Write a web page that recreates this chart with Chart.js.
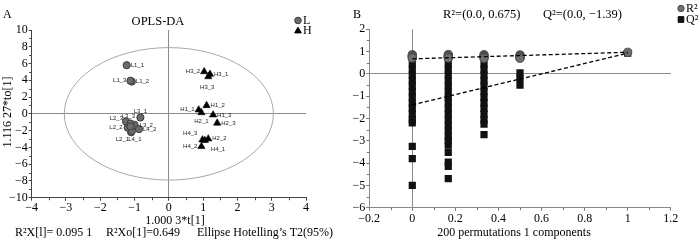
<!DOCTYPE html>
<html><head><meta charset="utf-8">
<script src="https://cdn.jsdelivr.net/npm/chart.js@4"></script>
<style>
html,body{margin:0;padding:0;background:#fff;}
#wrap{position:relative;width:700px;height:242px;overflow:hidden;background:#fff;}
canvas{position:absolute;top:0;}
#cA{left:0;} #cB{left:350px;}
</style></head><body>
<div id="wrap"><canvas id="cA" width="350" height="242"></canvas><canvas id="cB" width="350" height="242"></canvas></div>
<script>
// ---------- Panel A: OPLS-DA score plot ----------
const namesL = ['L1_1','L1_2','L1_3','L2_1','L2_2','L2_3','L3_1','L3_2','L3_3','L4_1','L4_2','L4_3'];
const tL     = [-1.23,-1.08,-1.12,-1.10,-1.20,-1.25,-0.83,-1.00,-1.12,-1.08,-0.87,-1.12];
const toL    = [ 5.80, 3.85, 3.95,-2.20,-1.65,-0.92,-0.44,-1.30,-1.15,-2.05,-1.82,-1.50];
const namesH = ['H1_1','H1_2','H1_3','H2_1','H2_2','H2_3','H3_1','H3_2','H3_3','H4_1','H4_2','H4_3'];
const tH     = [ 0.87, 1.10, 1.29, 0.95, 1.15, 1.41, 1.20, 1.03, 1.15, 1.05, 0.95, 0.98];
const toH    = [ 0.48, 0.99,-0.12, 0.15,-2.98,-1.10, 4.72, 5.04, 4.44,-3.17,-3.89,-3.10];
const ellipseT = 3.05, ellipseTo = 7.9;       // Hotelling's T2 (95%) semi-axes
const xTicksA = [-4,-3,-2,-1,0,1,2,3,4];
const yTicksA = [-10,-8,-6,-4,-2,0,2,4,6,8,10];

// ---------- Panel B: permutation test ----------
const corrLevels = [0, 0.167, 0.333, 0.5];
const r2Perm = [
  [0.86,0.82,0.78,0.74,0.71],
  [0.87,0.83,0.79,0.75,0.71],
  [0.86,0.82,0.78,0.74,0.70],
  [0.85,0.81,0.77,0.73,0.70]
];
const q2Perm = [
  [0.45,0.20,-0.05,-0.30,-0.55,-0.80,-1.05,-1.30,-1.55,-1.80,-2.05,-2.20,-3.25,-3.80,-5.00],
  [0.45,0.20,-0.05,-0.30,-0.55,-0.80,-1.05,-1.30,-1.55,-1.80,-2.05,-2.30,-2.55,-2.80,-3.00,-3.20,-3.52,-3.95,-4.15,-4.70],
  [0.45,0.20,-0.05,-0.30,-0.55,-0.80,-1.05,-1.30,-1.55,-1.80,-2.05,-2.25,-2.72],
  [0.05,-0.20,-0.50]
];
const corrOriginal = 1.0, r2Original = 0.97, q2Original = 0.93;
const r2Intercept = 0.675, q2Intercept = -1.39;
const xTicksB = [-0.2,0,0.2,0.4,0.6,0.8,1,1.2];
const yTicksB = [-6,-5,-4,-3,-2,-1,0,1,2];

const SERIF = "'Liberation Serif','Times New Roman',serif";
const SANS = "'Liberation Sans',Arial,sans-serif";
const fmt = v => { const n = Number(Number(v).toFixed(2)); return n < 0 ? '\u2212' + Math.abs(n) : String(n); };

function drawMarker(ctx, style, x, y, r, fill, stroke) {
  ctx.save(); ctx.fillStyle = fill; ctx.strokeStyle = stroke; ctx.lineWidth = 1;
  ctx.beginPath();
  if (style === 'circle') ctx.arc(x, y, r, 0, Math.PI*2);
  else if (style === 'triangle') { ctx.moveTo(x, y - r); ctx.lineTo(x + r*0.866, y + r*0.5); ctx.lineTo(x - r*0.866, y + r*0.5); ctx.closePath(); }
  else { ctx.rect(x - r, y - r, 2*r, 2*r); }
  ctx.fill(); ctx.stroke(); ctx.restore();
}

const minorTicks = { id:'minorTicks', afterDraw(chart, args, opts) {
  const ctx = chart.ctx; ctx.save(); ctx.strokeStyle = opts.color || '#444'; ctx.lineWidth = 1;
  ['x','y'].forEach(id => {
    const s = chart.scales[id]; const t = s.ticks;
    for (let i = 0; i < t.length - 1; i++) {
      const p = Math.round(s.getPixelForValue((t[i].value + t[i+1].value) / 2)) + 0.5;
      ctx.beginPath();
      if (id === 'x') { ctx.moveTo(p, s.top); ctx.lineTo(p, s.top + 2.5); }
      else { ctx.moveTo(s.right, p); ctx.lineTo(s.right - 2.5, p); }
      ctx.stroke();
    }
  });
  ctx.restore();
}};

const zeroGrid = c => (c.tick && Math.abs(c.tick.value) < 1e-9) ? '#8a8a8a' : 'rgba(0,0,0,0)';

// label anchor offsets for point names (dx, dy, align)
const labelAnchors = {
  L1_1:[4,0,'left'], L1_2:[4,0,'left'], L1_3:[-4,0,'right'], L2_1:[-2,7,'right'], L2_2:[-5,0,'right'],
  L2_3:[-3,-3,'right'], L3_1:[0,-6,'center'], L3_2:[5,1,'left'], L3_3:[-2,-7,'center'], L4_1:[3,8,'center'],
  L4_2:[4,0,'left'], L4_3:[0,0,'none'],
  H1_1:[-4,0,'right'], H1_2:[4,0,'left'], H1_3:[4,0,'left'], H2_1:[0,9,'center'], H2_2:[4,0,'left'],
  H2_3:[4,0,'left'], H3_1:[4,0,'left'], H3_2:[-4,0,'right'], H3_3:[-1,11,'center'], H4_1:[6,9,'left'],
  H4_2:[-4,0,'right'], H4_3:[-5,-6,'right']
};

const panelA = { id:'panelA',
  beforeDatasetsDraw(chart) {
    const ctx = chart.ctx, xs = chart.scales.x, ys = chart.scales.y;
    const cx = xs.getPixelForValue(0), cy = ys.getPixelForValue(0);
    const rx = Math.abs(xs.getPixelForValue(ellipseT) - cx), ry = Math.abs(ys.getPixelForValue(ellipseTo) - cy);
    ctx.save(); ctx.strokeStyle = '#a8a8a8'; ctx.lineWidth = 1;
    ctx.beginPath(); ctx.ellipse(cx, cy, rx, ry, 0, 0, Math.PI*2); ctx.stroke(); ctx.restore();
  },
  afterDraw(chart) {
    const ctx = chart.ctx; ctx.save();
    ctx.font = '6px ' + SANS; ctx.fillStyle = '#222'; ctx.textBaseline = 'middle';
    chart.data.datasets.forEach((ds, di) => {
      const meta = chart.getDatasetMeta(di);
      ds.data.forEach((d, i) => {
        const a = labelAnchors[d.n]; if (!a || a[2] === 'none') return;
        const el = meta.data[i];
        ctx.textAlign = a[2]; ctx.fillText(d.n, el.x + a[0], el.y + a[1]);
      });
    });
    ctx.fillStyle = '#000'; ctx.textBaseline = 'middle';
    ctx.font = '12px ' + SERIF; ctx.textAlign = 'left'; ctx.fillText('A', 3, 15);
    ctx.font = '12.5px ' + SERIF; ctx.textAlign = 'center'; ctx.fillText('OPLS-DA', 158, 22);
    ctx.font = '12px ' + SERIF; ctx.fillText('1.000 3*t[1]', 175, 221);
    ctx.textAlign = 'left';
    ctx.fillText('R\u00B2X[l]= 0.095 1', 15, 233);
    ctx.fillText('R\u00B2Xo[1]=0.649', 106, 233);
    ctx.fillText('Ellipse Hotelling\u2019s T2(95%)', 197, 233);
    ctx.save(); ctx.translate(8, 112); ctx.rotate(-Math.PI/2); ctx.textAlign = 'center';
    ctx.fillText('1.116 27*to[1]', 0, 0); ctx.restore();
    drawMarker(ctx, 'circle', 298, 20.5, 3.3, '#6b6b6b', '#3c3c3c');
    drawMarker(ctx, 'triangle', 298, 31, 3.8, '#000', '#000');
    ctx.font = '12px ' + SERIF; ctx.textAlign = 'left';
    ctx.fillText(chart.data.datasets[0].label, 303, 21);
    ctx.fillText(chart.data.datasets[1].label, 303, 31);
    ctx.restore();
  }
};

new Chart(document.getElementById('cA'), {
  type: 'scatter',
  data: { datasets: [
    { label:'L', data: namesL.map((n,i)=>({x:tL[i], y:toL[i], n})), pointStyle:'circle', pointRadius:3.6,
      backgroundColor:'#6b6b6b', borderColor:'#3c3c3c', borderWidth:1 },
    { label:'H', data: namesH.map((n,i)=>({x:tH[i], y:toH[i], n})), pointStyle:'triangle', pointRadius:4.2,
      backgroundColor:'#000', borderColor:'#000', borderWidth:0.6 }
  ]},
  options: {
    responsive:false, animation:false, events:[],
    layout:{ autoPadding:false, padding:{top:30, right:44, left:0, bottom:0} },
    plugins:{ legend:{display:false}, tooltip:{enabled:false}, minorTicks:{color:'#444'} },
    scales: {
      x: { type:'linear', min:-4, max:4,
        afterBuildTicks: s => { s.ticks = xTicksA.map(v=>({value:v})); },
        ticks:{ color:'#000', font:{family:SERIF, size:12}, padding:0, maxRotation:0, autoSkip:false, callback: fmt },
        grid:{ color: zeroGrid, tickColor:'#444', tickLength:3, lineWidth:1 },
        border:{ display:true, color:'#444', width:1 },
        afterFit: s => { s.height = 44.3; } },
      y: { type:'linear', min:-10, max:10,
        afterBuildTicks: s => { s.ticks = yTicksA.map(v=>({value:v})); },
        ticks:{ color:'#000', font:{family:SERIF, size:12}, padding:1, autoSkip:false, callback: fmt },
        grid:{ color: zeroGrid, tickColor:'#444', tickLength:3, lineWidth:1 },
        border:{ display:true, color:'#444', width:1 },
        afterFit: s => { s.width = 31.7; } }
    }
  },
  plugins:[panelA, minorTicks]
});

// ---------- Panel B chart ----------
const r2Points = [], q2Points = [];
corrLevels.forEach((c, i) => {
  r2Perm[i].forEach(v => r2Points.push({x:c, y:v}));
  q2Perm[i].forEach(v => q2Points.push({x:c, y:v}));
});
r2Points.push({x:corrOriginal, y:r2Original});
q2Points.push({x:corrOriginal, y:q2Original});

const panelB = { id:'panelB',
  afterDraw(chart) {
    const ctx = chart.ctx; ctx.save(); ctx.fillStyle = '#000'; ctx.textBaseline = 'middle';
    ctx.font = '12px ' + SERIF; ctx.textAlign = 'left'; ctx.fillText('B', 3, 15);
    ctx.font = '12.5px ' + SERIF;
    ctx.fillText('R\u00B2=(0.0, ' + r2Intercept + ')', 93, 15);
    ctx.fillText('Q\u00B2=(0.0, \u2212' + Math.abs(q2Intercept) + ')', 193, 15);
    ctx.font = '12px ' + SERIF; ctx.textAlign = 'center';
    ctx.fillText('200 permutations 1 components', 164, 233);
    drawMarker(ctx, 'circle', 331, 8.5, 3.2, '#707070', '#4a4a4a');
    drawMarker(ctx, 'rect', 331, 19.5, 2.8, '#111', '#000');
    ctx.textAlign = 'left'; ctx.font = '12px ' + SERIF;
    ctx.fillText('R\u00B2', 336, 9); ctx.fillText('Q\u00B2', 336, 20);
    ctx.restore();
  }
};

new Chart(document.getElementById('cB'), {
  type: 'scatter',
  data: { datasets: [
    { type:'line', label:'R2 fit', data:[{x:0,y:r2Intercept},{x:corrOriginal,y:r2Original}], borderColor:'#000',
      borderWidth:1.3, borderDash:[4,2.5], pointRadius:0, fill:false, order:0 },
    { type:'line', label:'Q2 fit', data:[{x:0,y:q2Intercept},{x:corrOriginal,y:q2Original}], borderColor:'#000',
      borderWidth:1.3, borderDash:[4,2.5], pointRadius:0, fill:false, order:0 },
    { label:'R\u00B2', data:r2Points, pointStyle:'circle', pointRadius:4.1, backgroundColor:'#707070',
      borderColor:'#4a4a4a', borderWidth:1, order:1 },
    { label:'Q\u00B2', data:q2Points, pointStyle:'rect', pointRadius:5.1, backgroundColor:'#111',
      borderColor:'#111', borderWidth:0, order:2 }
  ]},
  options: {
    responsive:false, animation:false, events:[],
    layout:{ autoPadding:false, padding:{top:29.3, right:29.2, left:0, bottom:0} },
    plugins:{ legend:{display:false}, tooltip:{enabled:false}, minorTicks:{color:'#777'} },
    scales: {
      x: { type:'linear', min:-0.2, max:1.2,
        afterBuildTicks: s => { s.ticks = xTicksB.map(v=>({value:v})); },
        ticks:{ color:'#000', font:{family:SERIF, size:12}, padding:1, maxRotation:0, autoSkip:false, callback: fmt },
        grid:{ color: zeroGrid, tickColor:'#777', tickLength:3, lineWidth:1 },
        border:{ display:true, color:'#888', width:1 },
        afterFit: s => { s.height = 34.3; } },
      y: { type:'linear', min:-6, max:2,
        afterBuildTicks: s => { s.ticks = yTicksB.map(v=>({value:v})); },
        ticks:{ color:'#000', font:{family:SERIF, size:12}, padding:1, autoSkip:false, callback: fmt },
        grid:{ color: zeroGrid, tickColor:'#777', tickLength:3, lineWidth:1 },
        border:{ display:true, color:'#888', width:1 },
        afterFit: s => { s.width = 19.2; } }
    }
  },
  plugins:[panelB, minorTicks]
});
</script>
</body></html>
